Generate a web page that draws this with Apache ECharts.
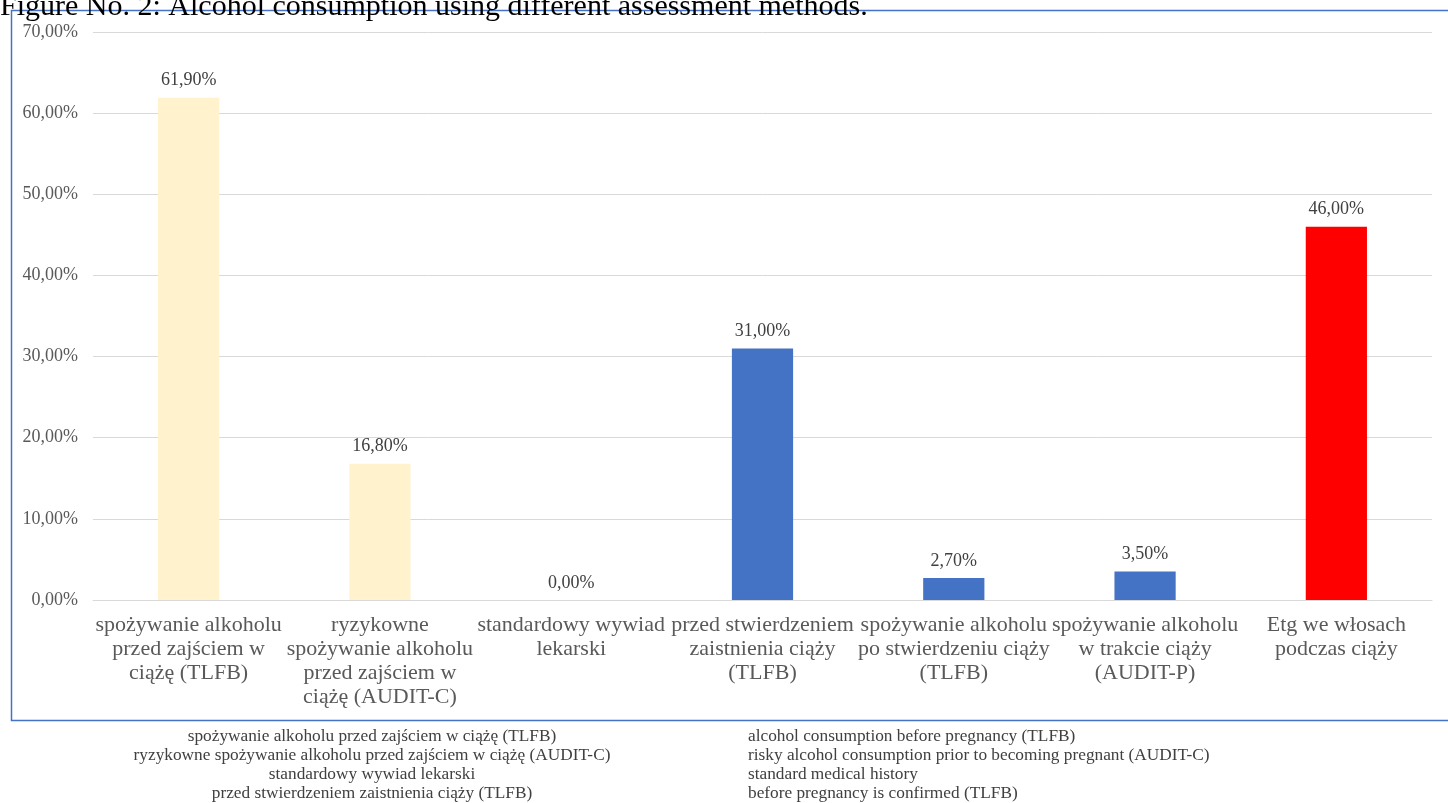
<!DOCTYPE html>
<html>
<head>
<meta charset="utf-8">
<script src="https://cdn.jsdelivr.net/npm/echarts@6/dist/echarts.min.js"></script>
<style>
  html, body { margin: 0; padding: 0; background: #fff; }
  #chart { width: 1448px; height: 803px; }
</style>
</head>
<body>
<div id="chart"></div>
<script>
const categories = [
  'spożywanie alkoholu\nprzed zajściem w\nciążę (TLFB)',
  'ryzykowne\nspożywanie alkoholu\nprzed zajściem w\nciążę (AUDIT-C)',
  'standardowy wywiad\nlekarski',
  'przed stwierdzeniem\nzaistnienia ciąży\n(TLFB)',
  'spożywanie alkoholu\npo stwierdzeniu ciąży\n(TLFB)',
  'spożywanie alkoholu\nw trakcie ciąży\n(AUDIT-P)',
  'Etg we włosach\npodczas ciąży'
]
const values = [61.9, 16.8, 0, 31.0, 2.7, 3.5, 46.0]
const barColors = ['#FFF2CC', '#FFF2CC', '#4472C4', '#4472C4', '#4472C4', '#4472C4', '#FF0000']

const notesPl = [
  'spożywanie alkoholu przed zajściem w ciążę (TLFB)',
  'ryzykowne spożywanie alkoholu przed zajściem w ciążę (AUDIT-C)',
  'standardowy wywiad lekarski',
  'przed stwierdzeniem zaistnienia ciąży (TLFB)'
]
const notesEn = [
  'alcohol consumption before pregnancy (TLFB)',
  'risky alcohol consumption prior to becoming pregnant (AUDIT-C)',
  'standard medical history',
  'before pregnancy is confirmed (TLFB)'
]

const serif = '"Liberation Serif", "DejaVu Serif", serif'
const fmt = v => v.toFixed(2).replace('.', ',') + '%'

const chart = echarts.init(document.getElementById('chart'))

const graphics = [
  {
    type: 'rect',
    shape: { x: 11.5, y: 10.5, width: 1460, height: 710 },
    style: { fill: 'none', stroke: '#4472C4', lineWidth: 1.5 },
    z: 0
  },
  {
    type: 'text',
    x: 0,
    y: 7,
    style: {
      text: 'Figure No. 2: Alcohol consumption using different assessment methods.',
      font: '30px ' + serif,
      fill: '#000',
      verticalAlign: 'middle'
    }
  }
]
// tabelka z tłumaczeniami pod wykresem
notesPl.forEach((t, i) => {
  graphics.push({
    type: 'text',
    x: 372, y: 736 + i * 19,
    style: { text: t, font: '17.3px ' + serif, fill: '#404040', align: 'center', verticalAlign: 'middle' }
  })
  graphics.push({
    type: 'text',
    x: 748, y: 736 + i * 19,
    style: { text: notesEn[i], font: '17.3px ' + serif, fill: '#404040', align: 'left', verticalAlign: 'middle' }
  })
})

chart.setOption({
  animation: false,
  backgroundColor: '#fff',
  grid: { left: 93, right: 16, top: 32, bottom: 203, containLabel: false },
  xAxis: {
    type: 'category',
    data: categories,
    axisLine: { lineStyle: { color: '#D9D9D9', width: 1 } },
    axisTick: { show: false },
    axisLabel: {
      interval: 0,
      color: '#595959',
      fontFamily: serif,
      fontSize: 22,
      lineHeight: 24,
      margin: 13
    }
  },
  yAxis: {
    type: 'value',
    min: 0,
    max: 70,
    interval: 10,
    axisLine: { show: false },
    axisTick: { show: false },
    splitLine: { lineStyle: { color: '#D9D9D9', width: 1 } },
    axisLabel: {
      color: '#595959',
      fontFamily: serif,
      fontSize: 18,
      margin: 15,
      formatter: v => fmt(v)
    }
  },
  series: [{
    type: 'bar',
    data: values.map((v, i) => ({ value: v, itemStyle: { color: barColors[i] } })),
    barWidth: '32%',
    label: {
      show: true,
      position: 'top',
      distance: 8,
      color: '#404040',
      fontFamily: serif,
      fontSize: 18,
      formatter: p => fmt(p.value)
    }
  }],
  graphic: graphics
})
</script>
</body>
</html>
